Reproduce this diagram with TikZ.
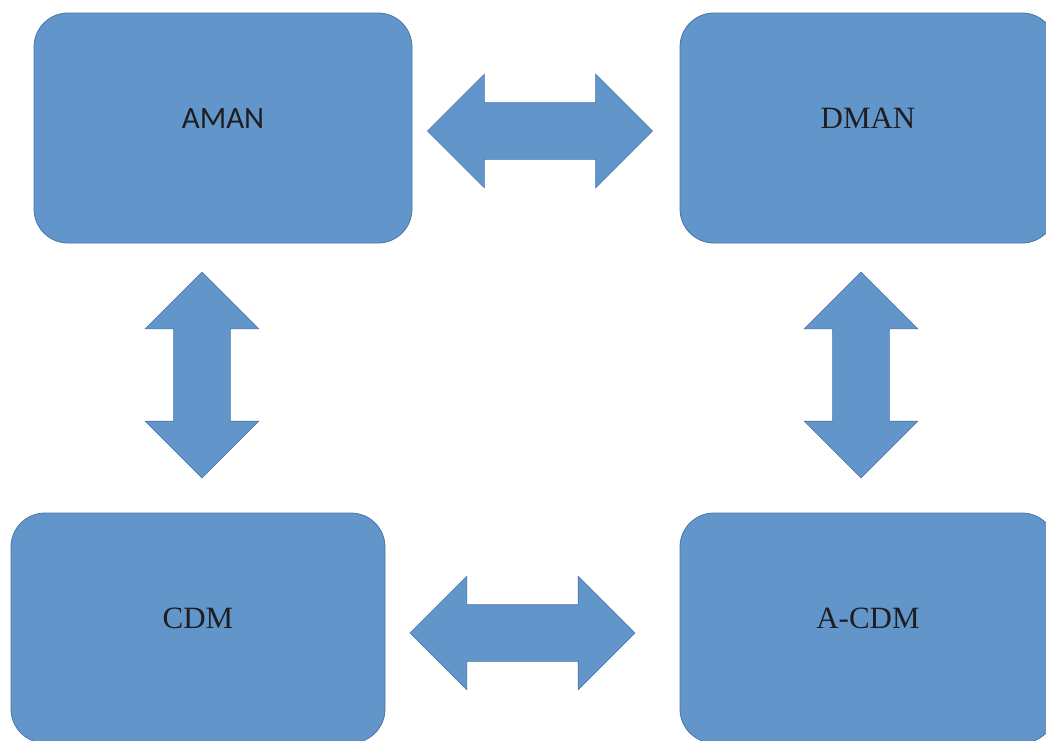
\documentclass[tikz,border=0pt]{standalone}
\usepackage{fontspec}
\setmainfont{Liberation Serif}
\newfontfamily\boxsans{Carlito}
\usepackage{tikz}
\usetikzlibrary{shapes.arrows}
\definecolor{boxfill}{RGB}{98,150,202}
\definecolor{boxline}{RGB}{72,118,168}
\definecolor{boxtext}{RGB}{30,30,34}

\begin{document}
\begin{tikzpicture}[x=1pt, y=-1pt,
    block/.style={draw=boxline, fill=boxfill, line width=0.8pt, rounded corners=34pt,
        minimum width=378pt, minimum height=230pt, inner sep=0pt, text depth=19pt,
        text=boxtext, font=\fontsize{31}{34}\selectfont},
    dblarr/.style={double arrow, draw=boxline, fill=boxfill, line width=0.6pt,
        inner xsep=0pt, inner ysep=28pt, minimum height=225pt, double arrow head extend=28.5pt}]
    \useasboundingbox (0,0) rectangle (1046,740);
    \clip (0,0) rectangle (1046,740);
    \node[block] (aman) at (223,128) {\boxsans AMAN};
    \node[block, minimum width=376pt] (dman) at (868,128) {DMAN};
    \node[block, minimum width=374pt] (cdm) at (198,628) {CDM};
    \node[block, minimum width=376pt] (acdm) at (868,628) {A-CDM};
    \node[dblarr] (am-dm) at (540,131) {};
    \node[dblarr] (cdm-acdm) at (522.5,633) {};
    \node[dblarr, rotate=90, minimum height=206pt] (am-cdm) at (202,375) {};
    \node[dblarr, rotate=90, minimum height=206pt] (dm-acdm) at (861,375) {};
\end{tikzpicture}
\end{document}
